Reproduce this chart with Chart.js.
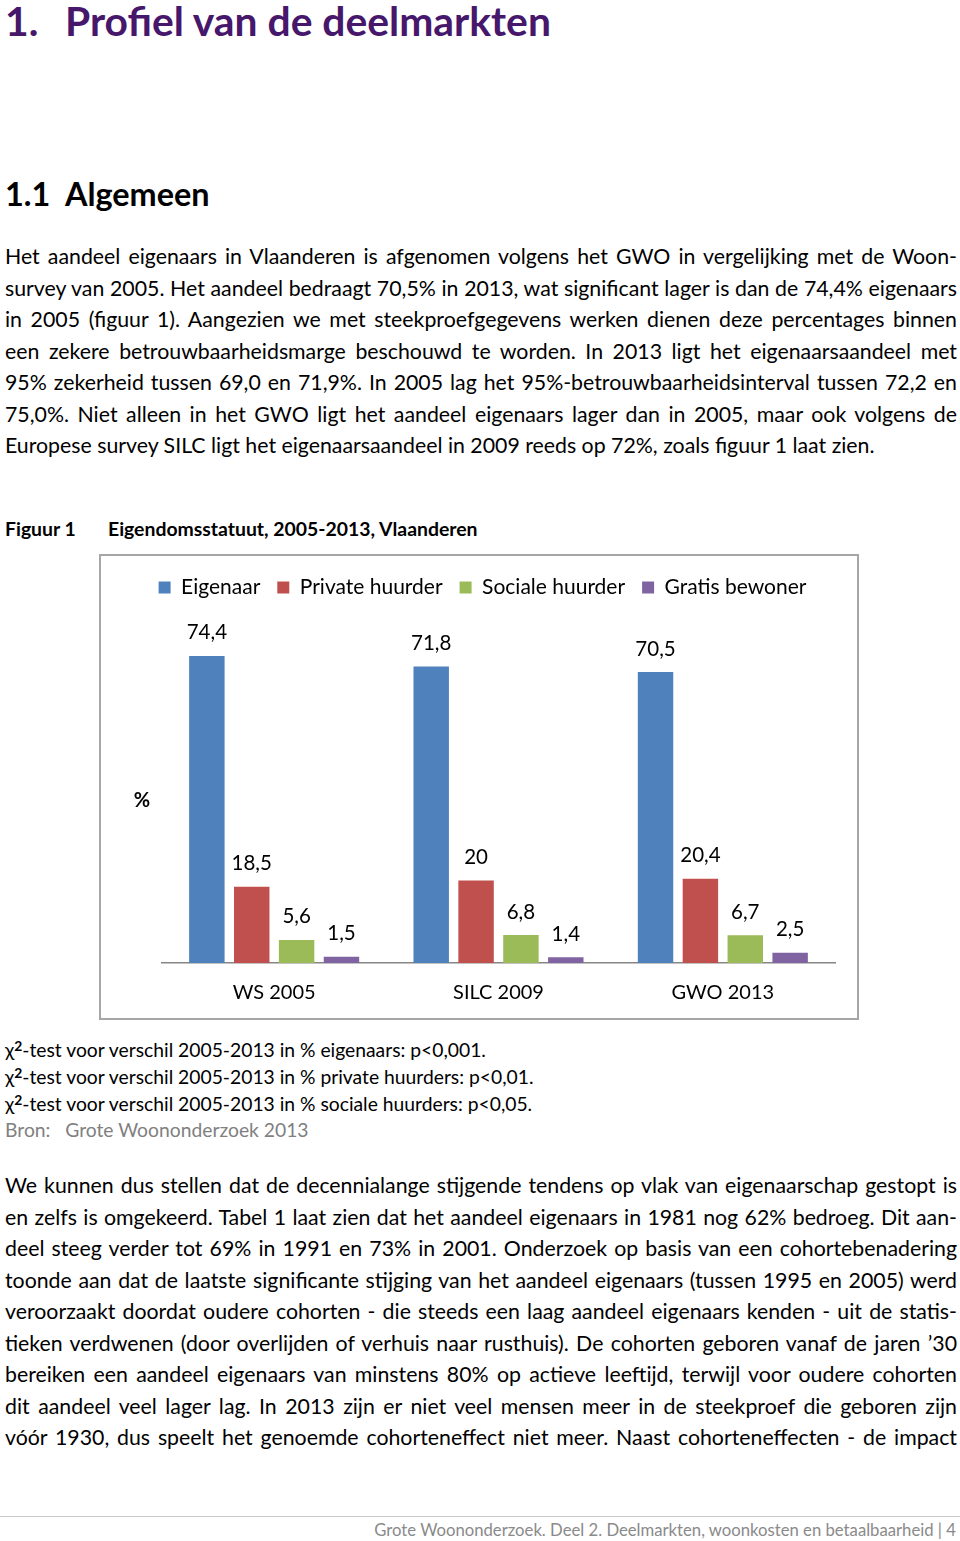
<!DOCTYPE html>
<html lang="nl">
<head>
<meta charset="utf-8">
<title>Profiel van de deelmarkten</title>
<script src="https://cdn.jsdelivr.net/npm/chart.js@4.4.1/dist/chart.umd.min.js"></script>
<style>
  html, body { margin: 0; padding: 0; background: #fff; }
  body { width: 960px; height: 1541px; position: relative; overflow: hidden; font-family: Lato, "Open Sans", sans-serif; color: #000; }
  .abs { position: absolute; }
  .h1 { left: 5px; top: -2px; font-size: 40.8px; font-weight: bold; color: #46176b; line-height: 46px; }
  .h1 .num, .h2 .num { display: inline-block; width: 60px; }
  .h2 { left: 5px; top: 174px; font-size: 32.4px; font-weight: bold; line-height: 40px; }
  .para { left: 5px; width: 952px; font-size: 21.3px; }
  .para div { height: 31.5px; line-height: 31.5px; white-space: nowrap; text-align: justify; text-align-last: justify; }
  .para div.last { text-align-last: left; }
  .fig { left: 5px; top: 516px; font-size: 19.4px; font-weight: bold; line-height: 26px; }
  .fig span { display: inline-block; width: 103px; }
  .box { left: 99px; top: 554px; width: 756px; height: 462px; border: 2px solid #a6a6a6; }
  .notes { left: 5px; top: 1037px; font-size: 19.3px; line-height: 26.8px; }
  .notes sup { font-size: 0.72em; line-height: 0; vertical-align: 0.45em; font-weight: bold; }
  .notes .src { color: #808080; }
  .rule { left: 0; top: 1516px; width: 960px; height: 1px; background: #c8c8c8; }
  .foot { right: 4px; top: 1519px; font-size: 16.7px; line-height: 22px; color: #8a8a8a; }
</style>
</head>
<body>
<div class="abs h1"><span class="num">1.</span>Profiel van de deelmarkten</div>
<div class="abs h2"><span class="num">1.1</span>Algemeen</div>

<div class="abs para" style="top:241px">
  <div>Het aandeel eigenaars in Vlaanderen is afgenomen volgens het GWO in vergelijking met de Woon-</div>
  <div>survey van 2005. Het aandeel bedraagt 70,5% in 2013, wat significant lager is dan de 74,4% eigenaars</div>
  <div>in 2005 (figuur 1). Aangezien we met steekproefgegevens werken dienen deze percentages binnen</div>
  <div>een zekere betrouwbaarheidsmarge beschouwd te worden. In 2013 ligt het eigenaarsaandeel met</div>
  <div>95% zekerheid tussen 69,0 en 71,9%. In 2005 lag het 95%-betrouwbaarheidsinterval tussen 72,2 en</div>
  <div>75,0%. Niet alleen in het GWO ligt het aandeel eigenaars lager dan in 2005, maar ook volgens de</div>
  <div class="last">Europese survey SILC ligt het eigenaarsaandeel in 2009 reeds op 72%, zoals figuur 1 laat zien.</div>
</div>

<div class="abs fig"><span>Figuur 1</span>Eigendomsstatuut, 2005-2013, Vlaanderen</div>

<div class="abs box"><canvas id="chart" width="756" height="462"></canvas></div>

<div class="abs notes">
  <div>χ<sup>2</sup>-test voor verschil 2005-2013 in % eigenaars: p&lt;0,001.</div>
  <div>χ<sup>2</sup>-test voor verschil 2005-2013 in % private huurders: p&lt;0,01.</div>
  <div>χ<sup>2</sup>-test voor verschil 2005-2013 in % sociale huurders: p&lt;0,05.</div>
  <div class="src">Bron:&nbsp;&nbsp; Grote Woononderzoek 2013</div>
</div>

<div class="abs para" style="top:1170px">
  <div>We kunnen dus stellen dat de decennialange stijgende tendens op vlak van eigenaarschap gestopt is</div>
  <div>en zelfs is omgekeerd. Tabel 1 laat zien dat het aandeel eigenaars in 1981 nog 62% bedroeg. Dit aan-</div>
  <div>deel steeg verder tot 69% in 1991 en 73% in 2001. Onderzoek op basis van een cohortebenadering</div>
  <div>toonde aan dat de laatste significante stijging van het aandeel eigenaars (tussen 1995 en 2005) werd</div>
  <div>veroorzaakt doordat oudere cohorten - die steeds een laag aandeel eigenaars kenden - uit de statis-</div>
  <div>tieken verdwenen (door overlijden of verhuis naar rusthuis). De cohorten geboren vanaf de jaren ’30</div>
  <div>bereiken een aandeel eigenaars van minstens 80% op actieve leeftijd, terwijl voor oudere cohorten</div>
  <div>dit aandeel veel lager lag. In 2013 zijn er niet veel mensen meer in de steekproef die geboren zijn</div>
  <div>vóór 1930, dus speelt het genoemde cohorteneffect niet meer. Naast cohorteneffecten - de impact</div>
</div>

<div class="abs rule"></div>
<div class="abs foot">Grote Woononderzoek. Deel 2. Deelmarkten, woonkosten en betaalbaarheid | 4</div>

<script>
// --- Data ---
const categories = ['WS 2005', 'SILC 2009', 'GWO 2013'];
const eigenaar = [74.4, 71.8, 70.5];
const privateHuurder = [18.5, 20, 20.4];
const socialeHuurder = [5.6, 6.8, 6.7];
const gratisBewoner = [1.5, 1.4, 2.5];

const colors = {
  blue: '#4f81bd',
  red: '#c0504d',
  green: '#9bbb59',
  purple: '#8064a2'
};

const chartFont = "Lato, 'Open Sans', sans-serif";

// value labels above each bar, Dutch decimal comma
const valueLabels = {
  id: 'valueLabels',
  afterDatasetsDraw(chart) {
    const ctx = chart.ctx;
    ctx.save();
    ctx.font = '20.5px ' + chartFont;
    ctx.fillStyle = '#000';
    ctx.textAlign = 'center';
    ctx.textBaseline = 'middle';
    chart.data.datasets.forEach((ds, i) => {
      chart.getDatasetMeta(i).data.forEach((bar, j) => {
        const label = String(ds.data[j]).replace('.', ',');
        ctx.fillText(label, bar.x, bar.y - 23);
      });
    });
    ctx.restore();
  }
};

// the "%" title left of the plot
const percentTitle = {
  id: 'percentTitle',
  afterDraw(chart) {
    const { ctx, chartArea } = chart;
    ctx.save();
    ctx.font = 'bold 20px ' + chartFont;
    ctx.fillStyle = '#000';
    ctx.textAlign = 'center';
    ctx.textBaseline = 'middle';
    ctx.fillText('%', chartArea.left - 20, (chartArea.top + chartArea.bottom) / 2 + 15);
    ctx.restore();
  }
};

function bars(label, data, color) {
  return {
    label: label,
    data: data,
    backgroundColor: color,
    borderWidth: 0,
    categoryPercentage: 0.8,
    barPercentage: 0.79
  };
}

new Chart(document.getElementById('chart'), {
  type: 'bar',
  data: {
    labels: categories,
    datasets: [
      bars('Eigenaar', eigenaar, colors.blue),
      bars('Private huurder', privateHuurder, colors.red),
      bars('Sociale huurder', socialeHuurder, colors.green),
      bars('Gratis bewoner', gratisBewoner, colors.purple)
    ]
  },
  options: {
    responsive: false,
    animation: false,
    layout: { padding: { left: 29, right: 22, top: 4, bottom: 0 } },
    plugins: {
      legend: {
        display: true,
        position: 'top',
        labels: {
          boxWidth: 12,
          boxHeight: 12,
          padding: 17,
          color: '#000',
          font: { family: chartFont, size: 21 }
        }
      },
      tooltip: { enabled: false }
    },
    scales: {
      x: {
        grid: { display: false },
        border: { display: true, color: '#868686', width: 1.5 },
        ticks: {
          color: '#000',
          padding: 10,
          font: { family: chartFont, size: 20 }
        },
        afterFit(scale) { scale.height = 55; }
      },
      y: {
        display: true,
        min: 0,
        max: 86,
        grid: { display: false },
        border: { display: false },
        ticks: { display: false },
        afterFit(scale) { scale.width = 32; }
      }
    }
  },
  plugins: [valueLabels, percentTitle]
});
</script>
</body>
</html>
